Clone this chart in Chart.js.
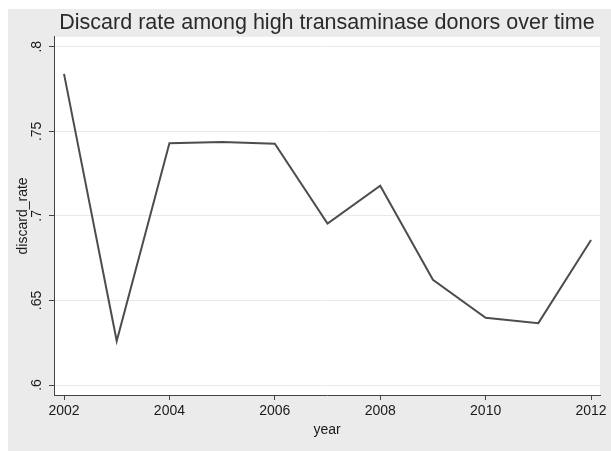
<!DOCTYPE html>
<html lang="en">
<head>
    <meta charset="UTF-8">
    <title>Discard rate among high transaminase donors over time</title>
    <style>
        html, body { margin: 0; padding: 0; background: #ffffff; }
        canvas { display: block; }
    </style>
    <script src="https://cdn.jsdelivr.net/npm/chart.js@4.4.1/dist/chart.umd.min.js"></script>
</head>
<body>
    <canvas id="discardChart" width="611" height="451"></canvas>

    <script>
        // values
        const years = [2002, 2003, 2004, 2005, 2006, 2007, 2008, 2009, 2010, 2011, 2012];
        const discardRate = [0.784, 0.626, 0.743, 0.7437, 0.7427, 0.6955, 0.7178, 0.6622, 0.6398, 0.6366, 0.6858];

        const xTicks = [2002, 2004, 2006, 2008, 2010, 2012];
        const yTicks = [0.6, 0.65, 0.7, 0.75, 0.8];
        const yTickLabels = ['.6', '.65', '.7', '.75', '.8'];

        const FONT = 'Liberation Sans, Arial, Helvetica, sans-serif';

        // gray page frame + white plot region (Stata s2color look)
        const backdrop = {
            id: 'backdrop',
            beforeDraw(chart) {
                const c = chart.ctx;
                const a = chart.chartArea;
                c.save();
                c.fillStyle = '#ffffff';
                c.fillRect(0, 0, chart.width, chart.height);
                c.fillStyle = '#ebebeb';
                c.fillRect(8, 9, chart.width - 8, chart.height - 9);
                c.fillStyle = '#ffffff';
                c.fillRect(a.left, a.top, a.right - a.left, a.bottom - a.top);
                c.restore();
            }
        };

        const ctx = document.getElementById('discardChart').getContext('2d');
        new Chart(ctx, {
            type: 'line',
            data: {
                datasets: [{
                    label: 'discard_rate',
                    data: years.map((y, i) => ({x: y, y: discardRate[i]})),
                    borderColor: '#4d4d4d',
                    borderWidth: 2,
                    pointRadius: 0,
                    pointHoverRadius: 0,
                    fill: false,
                    tension: 0
                }]
            },
            options: {
                animation: false,
                responsive: false,
                devicePixelRatio: 1,
                layout: {
                    padding: {left: 0, right: 11, top: 0, bottom: 0}
                },
                scales: {
                    x: {
                        type: 'linear',
                        min: 2001.81,
                        max: 2012.17,
                        afterBuildTicks: s => { s.ticks = xTicks.map(v => ({value: v})); },
                        afterFit: s => { s.height = 56; },
                        border: {display: true, color: '#444', width: 1},
                        grid: {
                            drawOnChartArea: false,
                            drawTicks: true,
                            tickLength: 5,
                            tickColor: '#444'
                        },
                        ticks: {
                            autoSkip: false,
                            maxRotation: 0,
                            padding: 3,
                            color: '#1a1a1a',
                            font: {family: FONT, size: 14},
                            callback: v => String(v)
                        },
                        title: {
                            display: true,
                            text: 'year',
                            color: '#1a1a1a',
                            font: {family: FONT, size: 14},
                            padding: {top: 0, bottom: 12}
                        }
                    },
                    y: {
                        min: 0.5941,
                        max: 0.8059,
                        afterBuildTicks: s => { s.ticks = yTicks.map(v => ({value: v})); },
                        afterFit: s => { s.width = 54; },
                        border: {display: true, color: '#444', width: 1},
                        grid: {
                            color: '#e9e9e9',
                            lineWidth: 1,
                            drawTicks: true,
                            tickLength: 5,
                            tickColor: '#444'
                        },
                        ticks: {
                            autoSkip: false,
                            minRotation: 90,
                            maxRotation: 90,
                            crossAlign: 'center',
                            padding: 2,
                            color: '#1a1a1a',
                            font: {family: FONT, size: 14},
                            callback: v => {
                                const i = yTicks.findIndex(t => Math.abs(t - v) < 1e-6);
                                return i >= 0 ? yTickLabels[i] : '';
                            }
                        },
                        title: {
                            display: true,
                            text: 'discard_rate',
                            color: '#1a1a1a',
                            font: {family: FONT, size: 14},
                            padding: {top: 15, bottom: 0}
                        }
                    }
                },
                plugins: {
                    legend: {display: false},
                    tooltip: {enabled: false},
                    title: {
                        display: true,
                        fullSize: false,
                        text: 'Discard rate among high transaminase donors over time',
                        color: '#2a2a2a',
                        font: {family: FONT, size: 21.5, weight: 'normal', lineHeight: 1.2},
                        padding: {top: 10, bottom: 1}
                    }
                }
            },
            plugins: [backdrop]
        });
    </script>
</body>
</html>
